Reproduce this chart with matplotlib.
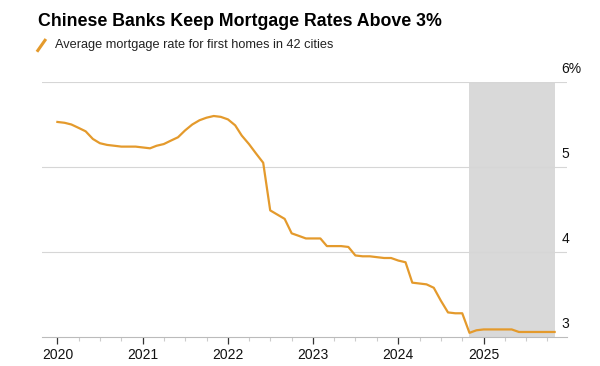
import pandas as pd
import matplotlib.pyplot as plt
import matplotlib.dates as mdates

# monthly average first-home mortgage rate, 42 cities (%), Jan 2020 - Nov 2025
months = pd.date_range('2020-01-01', periods=71, freq='MS')
rates = [5.53, 5.52, 5.50, 5.46, 5.42, 5.33, 5.28, 5.26, 5.25, 5.24, 5.24, 5.24,
         5.23, 5.22, 5.25, 5.27, 5.31, 5.35, 5.43, 5.50, 5.55, 5.58, 5.60, 5.59,
         5.56, 5.49, 5.37, 5.27, 5.16, 5.05, 4.49, 4.44, 4.39, 4.22, 4.19, 4.16,
         4.16, 4.16, 4.07, 4.07, 4.07, 4.06, 3.96, 3.95, 3.95, 3.94, 3.93, 3.93,
         3.90, 3.88, 3.64, 3.63, 3.62, 3.58, 3.43, 3.29, 3.28, 3.28, 3.05, 3.08,
         3.09, 3.09, 3.09, 3.09, 3.09, 3.06, 3.06, 3.06, 3.06, 3.06, 3.06]
shade_start = pd.Timestamp('2024-11-01')
shade_end = pd.Timestamp('2025-11-01')
ytick_vals = [3, 4, 5, 6]
ytick_labels = ['3', '4', '5', '6%']

orange = '#e49a2c'
plt.rcParams['font.family'] = ['Liberation Sans', 'DejaVu Sans']

fig = plt.figure(figsize=(6, 3.66), dpi=100)
ax = fig.add_axes([0.07, 0.079, 0.875, 0.697])

ax.axvspan(shade_start, shade_end, color='#d9d9d9', lw=0, zorder=0)
for v in ytick_vals[1:]:
    ax.axhline(v, color='#d6d6d6', lw=0.8, zorder=1)
ax.plot(months, rates, color=orange, lw=1.6, zorder=3)

ax.set_ylim(3, 6)
ax.set_xlim(pd.Timestamp('2019-10-27'), pd.Timestamp('2025-12-24'))
ax.set_yticks([])
for v, lab in zip(ytick_vals, ytick_labels):
    ax.text(0.99, v + 0.07, lab, transform=ax.get_yaxis_transform(),
            ha='left', va='bottom', fontsize=10, color='#111111')

ax.xaxis.set_major_locator(mdates.YearLocator())
ax.xaxis.set_major_formatter(mdates.DateFormatter('%Y'))
ax.xaxis.set_minor_locator(mdates.MonthLocator(bymonth=[4, 7, 10]))
ax.tick_params(axis='x', which='major', length=5, width=0.9, color='#333333',
               labelsize=10, pad=3, labelcolor='#111111')
ax.tick_params(axis='x', which='minor', length=3, width=0.8, color='#cccccc')

for s in ['top', 'right', 'left']:
    ax.spines[s].set_visible(False)
ax.spines['bottom'].set_color('#bbbbbb')
ax.spines['bottom'].set_linewidth(0.8)

fig.text(0.063, 0.942, 'Chinese Banks Keep Mortgage Rates Above 3%',
         fontsize=12.8, fontweight='bold', va='center', ha='left')
fig.add_artist(plt.Line2D([0.063, 0.075], [0.862, 0.89], color=orange, lw=2.2,
                          transform=fig.transFigure))
fig.text(0.092, 0.877, 'Average mortgage rate for first homes in 42 cities',
         fontsize=9.2, va='center', ha='left', color='#222222')

fig.savefig('out.png', dpi=100, facecolor='white')
